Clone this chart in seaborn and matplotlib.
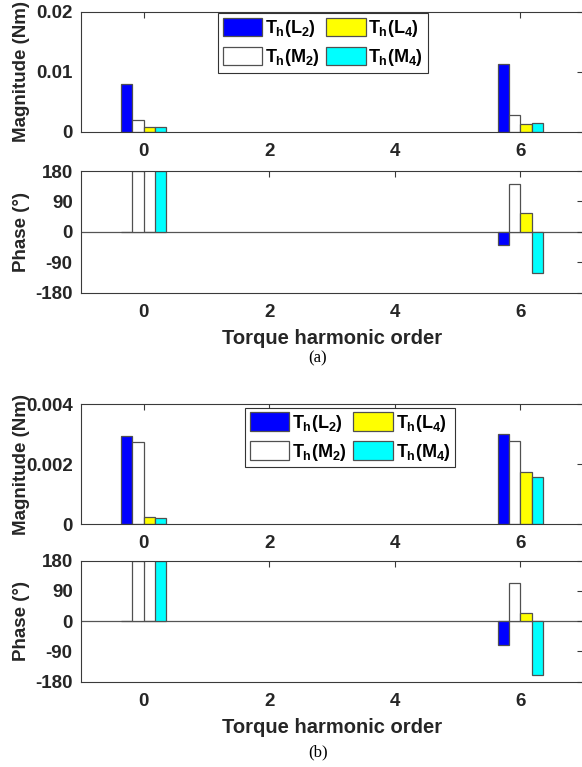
import numpy as np
import pandas as pd
import matplotlib
matplotlib.use("Agg")
import matplotlib.pyplot as plt
from matplotlib.patches import Patch
import seaborn as sns

# ---------------- data ----------------
orders = [0, 6]
series = [r"$T_h(L_2)$", r"$T_h(M_2)$", r"$T_h(L_4)$", r"$T_h(M_4)$"]
colors = ["#0000FF", "#FFFFFF", "#FFFF00", "#00FFFF"]

mag_a_L2 = [0.0080, 0.0112]
mag_a_M2 = [0.0019, 0.0027]
mag_a_L4 = [0.0008, 0.0013]
mag_a_M4 = [0.0008, 0.0015]
phase_a_L2 = [0, -38]
phase_a_M2 = [180, 143]
phase_a_L4 = [0, 56]
phase_a_M4 = [180, -122]

mag_b_L2 = [0.00293, 0.00300]
mag_b_M2 = [0.00274, 0.00277]
mag_b_L4 = [0.00023, 0.00173]
mag_b_M4 = [0.00020, 0.00159]
phase_b_L2 = [0, -71]
phase_b_M2 = [180, 115]
phase_b_L4 = [0, 23]
phase_b_M4 = [180, -159]

mag_ticks_a = [0, 0.01, 0.02]
mag_ticklabels_a = ["0", "0.01", "0.02"]
mag_ticks_b = [0, 0.002, 0.004]
mag_ticklabels_b = ["0", "0.002", "0.004"]
phase_ticks = [-180, -90, 0, 90, 180]
x_ticks = [0, 2, 4, 6]

# ---------------- style ----------------
sns.set_theme(style="white")
plt.rcParams["font.family"] = ["Liberation Sans", "DejaVu Sans"]
plt.rcParams["font.weight"] = "bold"
plt.rcParams["mathtext.fontset"] = "custom"
plt.rcParams["mathtext.rm"] = "Liberation Sans:bold"
plt.rcParams["mathtext.it"] = "Liberation Sans:bold"
plt.rcParams["mathtext.bf"] = "Liberation Sans:bold"

AX_COL = "#3a3a3a"
EDGE = "#505050"
TXT = "#262626"


def make_df(vals):
    rows = []
    for s, v in zip(series, vals):
        for o, y in zip(orders, v):
            rows.append({"order": o, "series": s, "value": y})
    return pd.DataFrame(rows)


def style_axes(ax, df, yticks, yticklabels, ylim, ylabel):
    sns.barplot(data=df, x="order", y="value", hue="series",
                hue_order=series, palette=colors, native_scale=True,
                width=0.12, saturation=1, errorbar=None,
                edgecolor=EDGE, linewidth=0.9, legend=False, ax=ax)
    ax.set_xlim(-1, 7)
    ax.set_ylim(*ylim)
    ax.set_xticks(x_ticks)
    ax.set_xticklabels([str(t) for t in x_ticks])
    ax.set_yticks(yticks)
    ax.set_yticklabels(yticklabels)
    ax.set_xlabel("")
    ax.set_ylabel(ylabel, fontsize=13.5, fontweight="bold", color=TXT)
    ax.yaxis.set_label_coords(-0.102, 0.5)
    ax.tick_params(direction="in", length=4, width=0.8, color=AX_COL,
                   top=True, right=True, labelsize=13.5, labelcolor=TXT)
    ax.tick_params(axis="x", pad=8)
    ax.tick_params(axis="y", pad=6)
    for lab in ax.get_xticklabels() + ax.get_yticklabels():
        lab.set_fontweight("bold")
    for sp in ax.spines.values():
        sp.set_color(AX_COL)
        sp.set_linewidth(0.8)
        sp.set_visible(True)


W, H = 582, 767
fig = plt.figure(figsize=(W / 100, H / 100), dpi=100)

left = 81 / W
width = 1 - left + 0.002


def add_ax(top_px, bot_px):
    return fig.add_axes([left, 1 - bot_px / H, width, (bot_px - top_px) / H])


panels = [
    (11.5, 131.7, 171, 292.7,
     [mag_a_L2, mag_a_M2, mag_a_L4, mag_a_M4],
     [phase_a_L2, phase_a_M2, phase_a_L4, phase_a_M4],
     mag_ticks_a, mag_ticklabels_a, (0, 0.02), (0.273, 0.985), "(a)", 358),
    (404.3, 524.3, 560.7, 681.7,
     [mag_b_L2, mag_b_M2, mag_b_L4, mag_b_M4],
     [phase_b_L2, phase_b_M2, phase_b_L4, phase_b_M4],
     mag_ticks_b, mag_ticklabels_b, (0, 0.004), (0.327, 0.97), "(b)", 752),
]

for (mt, mb, pt, pb, mags, phs, mtk, mtl, mylim, leg_anchor, tag, tag_y) in panels:
    axm = add_ax(mt, mb)
    style_axes(axm, make_df(mags), mtk, mtl, mylim, "Magnitude (Nm)")

    handles = [Patch(facecolor=c, edgecolor=EDGE, linewidth=0.9, label=s)
               for s, c in zip(series, colors)]
    leg = axm.legend(handles=handles, ncol=2, loc="upper left",
                     bbox_to_anchor=leg_anchor, borderaxespad=0,
                     fontsize=13, handlelength=2.2, handleheight=1.2,
                     handletextpad=0.15, columnspacing=0.35,
                     labelspacing=0.42, borderpad=0.25,
                     fancybox=False, framealpha=1, edgecolor="#333333")
    leg.get_frame().set_linewidth(0.8)
    for t in leg.get_texts():
        t.set_color("black")

    axp = add_ax(pt, pb)
    style_axes(axp, make_df(phs), phase_ticks, [str(t) for t in phase_ticks],
               (-180, 180), "Phase (°)")
    axp.axhline(0, color="#555555", lw=0.9, zorder=0.5)
    axp.set_xlabel("Torque harmonic order", fontsize=14.5, fontweight="bold",
                   color=TXT, labelpad=6)

    fig.text(318 / W, 1 - tag_y / H, tag, ha="center", va="center",
             fontsize=12, family="Liberation Serif", fontweight="normal",
             color="black")

fig.savefig("out.png", dpi=100)
